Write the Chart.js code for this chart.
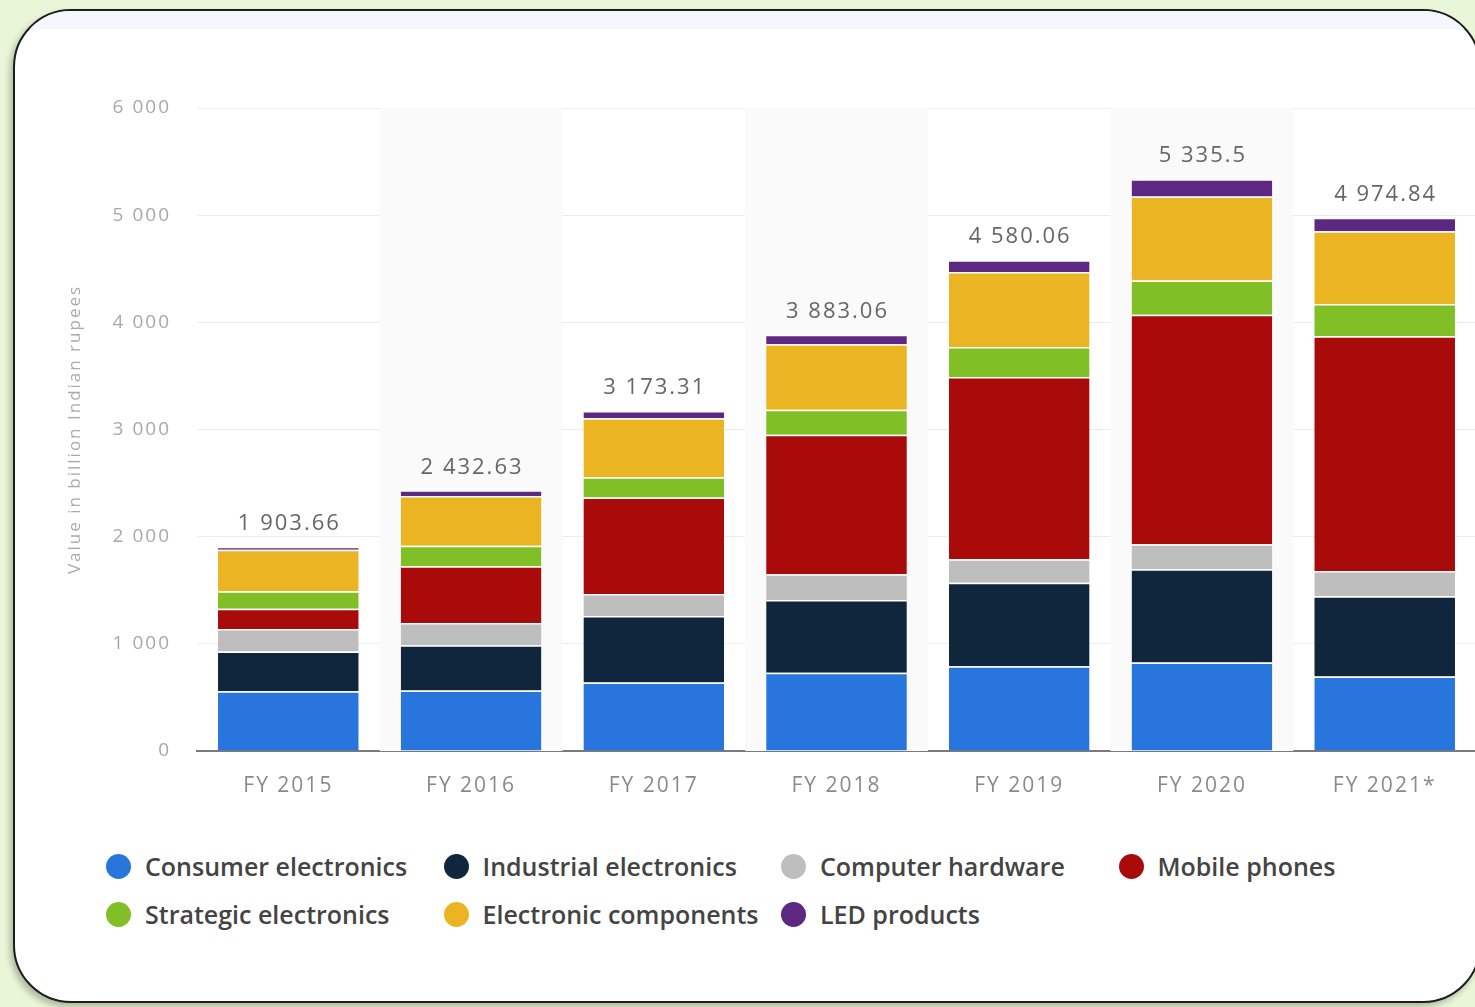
<!DOCTYPE html>
<html>
<head>
<meta charset="utf-8">
<title>Electronics production in India by segment</title>
<script src="https://cdn.jsdelivr.net/npm/chart.js@4.4.1/dist/chart.umd.min.js"></script>
<style>
    html, body {
        margin: 0;
        padding: 0;
        width: 1475px;
        height: 1007px;
        overflow: hidden;
        background: #e9f6d7;
        font-family: 'Open Sans', sans-serif;
    }
    .card {
        position: absolute;
        left: 13px;
        top: 9px;
        width: 1468px;
        height: 994px;
        box-sizing: border-box;
        background: #fff;
        border: 2px solid #1d1d1d;
        border-radius: 58px;
        box-shadow: -3px 4px 6px rgba(0, 0, 0, 0.25);
        overflow: hidden;
    }
    .card .strip {
        position: absolute;
        left: 0;
        right: 0;
        top: 0;
        height: 18px;
        background: #f3f6fb;
    }
    #chart {
        position: absolute;
        left: 0;
        top: 0;
    }
    #legend {
        position: absolute;
        left: 106px;
        top: 853px;
        width: 1360px;
        display: grid;
        grid-template-columns: repeat(4, 337.5px);
        row-gap: 22px;
    }
    .legend-item {
        display: flex;
        align-items: center;
        height: 26px;
        font-size: 25px;
        font-weight: 600;
        color: #444;
        white-space: nowrap;
    }
    .legend-dot {
        width: 25px;
        height: 25px;
        border-radius: 50%;
        margin-right: 14px;
        flex: none;
    }
</style>
</head>
<body>
<div class="card"><div class="strip"></div></div>
<canvas id="chart" width="1480" height="810"></canvas>
<div id="legend"></div>

<script>
// Chart data (billion Indian rupees)
const categories = ['FY 2015', 'FY 2016', 'FY 2017', 'FY 2018', 'FY 2019', 'FY 2020', 'FY 2021*'];

const consumerElectronics   = [558, 565, 640, 730, 790, 825, 695];
const industrialElectronics = [370, 422, 620, 680, 780, 870, 750];
const computerHardware      = [210, 208, 205, 240, 220, 235, 235];
const mobilePhones          = [189, 530, 900, 1300, 1700, 2140, 2190];
const strategicElectronics  = [164, 190, 190, 235, 280, 320, 300];
const electronicComponents  = [388, 465, 550, 610, 700, 785, 680];
const ledProducts           = [24.66, 52.63, 68.31, 88.06, 110.06, 160.5, 124.84];

const yTicks = [0, 1000, 2000, 3000, 4000, 5000, 6000];

const seriesList = [
    { label: 'Consumer electronics', data: consumerElectronics, color: '#2876dd' },
    { label: 'Industrial electronics', data: industrialElectronics, color: '#10263c' },
    { label: 'Computer hardware', data: computerHardware, color: '#bebebe' },
    { label: 'Mobile phones', data: mobilePhones, color: '#a90b0b' },
    { label: 'Strategic electronics', data: strategicElectronics, color: '#80bf25' },
    { label: 'Electronic components', data: electronicComponents, color: '#ebb423' },
    { label: 'LED products', data: ledProducts, color: '#5c2882' }
];

// Number format with a space as thousands separator
function formatNumber(value) {
    const parts = String(Number(value.toFixed(2))).split('.');
    parts[0] = parts[0].replace(/\B(?=(\d{3})+(?!\d))/g, ' ');
    return parts.join('.');
}

function stackTotal(index) {
    return seriesList.reduce((sum, s) => sum + s.data[index], 0);
}

// Wider letter spacing for canvas text, like the original screenshot
const textSpacing = {
    id: 'textSpacing',
    beforeDraw(chart) {
        chart.ctx.letterSpacing = '2px';
    }
};

// Light bands behind every other category
const columnBands = {
    id: 'columnBands',
    beforeDatasetsDraw(chart) {
        const { ctx, chartArea, scales } = chart;
        const step = (chartArea.right - chartArea.left) / categories.length;
        ctx.save();
        ctx.fillStyle = '#fafafa';
        categories.forEach((c, i) => {
            if (i % 2 === 1) {
                const x = scales.x.getPixelForValue(i);
                ctx.fillRect(x - step / 2, chartArea.top, step, chartArea.bottom - chartArea.top);
            }
        });
        ctx.restore();
    }
};

// Totals above the stacks
const totalLabels = {
    id: 'totalLabels',
    afterDatasetsDraw(chart) {
        const { ctx, scales } = chart;
        const meta = chart.getDatasetMeta(seriesList.length - 1);
        ctx.save();
        ctx.letterSpacing = '2px';
        ctx.font = '22px "Open Sans", sans-serif';
        ctx.fillStyle = '#666';
        ctx.textAlign = 'center';
        ctx.textBaseline = 'middle';
        categories.forEach((c, i) => {
            const total = stackTotal(i);
            const y = scales.y.getPixelForValue(total);
            ctx.fillText(formatNumber(total), meta.data[i].x + 1, y - 23);
        });
        ctx.restore();
    }
};

function buildLegend() {
    const legend = document.getElementById('legend');
    seriesList.forEach(s => {
        const item = document.createElement('div');
        item.className = 'legend-item';
        item.innerHTML = `<span class="legend-dot" style="background:${s.color}"></span>${s.label}`;
        legend.appendChild(item);
    });
}

function setupChart() {
    const ctx = document.getElementById('chart');
    new Chart(ctx, {
        type: 'bar',
        data: {
            labels: categories,
            datasets: seriesList.map(s => ({
                label: s.label,
                data: s.data,
                backgroundColor: s.color,
                borderColor: 'rgba(255, 255, 255, 0.7)',
                borderWidth: { top: 1.5 },
                borderSkipped: 'start',
                categoryPercentage: 0.77,
                barPercentage: 1.0
            }))
        },
        options: {
            responsive: false,
            animation: false,
            layout: {
                padding: { left: 60, right: 4, top: 108, bottom: 0 }
            },
            plugins: {
                legend: { display: false },
                tooltip: { enabled: false }
            },
            scales: {
                x: {
                    stacked: true,
                    grid: { display: false },
                    border: { display: true, color: '#7a7a7a', width: 2 },
                    ticks: {
                        color: '#8a8a8a',
                        font: { family: 'Open Sans', size: 21 },
                        padding: 14
                    },
                    afterFit(scale) { scale.height = 59; }
                },
                y: {
                    stacked: true,
                    min: 0,
                    max: 6000,
                    afterBuildTicks(scale) {
                        scale.ticks = yTicks.map(v => ({ value: v }));
                    },
                    grid: { color: '#ececec', lineWidth: 1, drawTicks: false },
                    border: { display: false },
                    ticks: {
                        color: '#a8a8a8',
                        font: { family: 'Open Sans', size: 19 },
                        padding: 26,
                        callback: v => formatNumber(v)
                    },
                    title: {
                        display: true,
                        text: 'Value in billion Indian rupees',
                        color: '#ababab',
                        font: { family: 'Open Sans', size: 17 },
                        padding: { top: 5, bottom: 0 }
                    },
                    afterFit(scale) { scale.width = 137; }
                }
            }
        },
        plugins: [textSpacing, columnBands, totalLabels]
    });
}

document.addEventListener('DOMContentLoaded', function() {
    buildLegend();
    setupChart();
});
</script>
</body>
</html>
